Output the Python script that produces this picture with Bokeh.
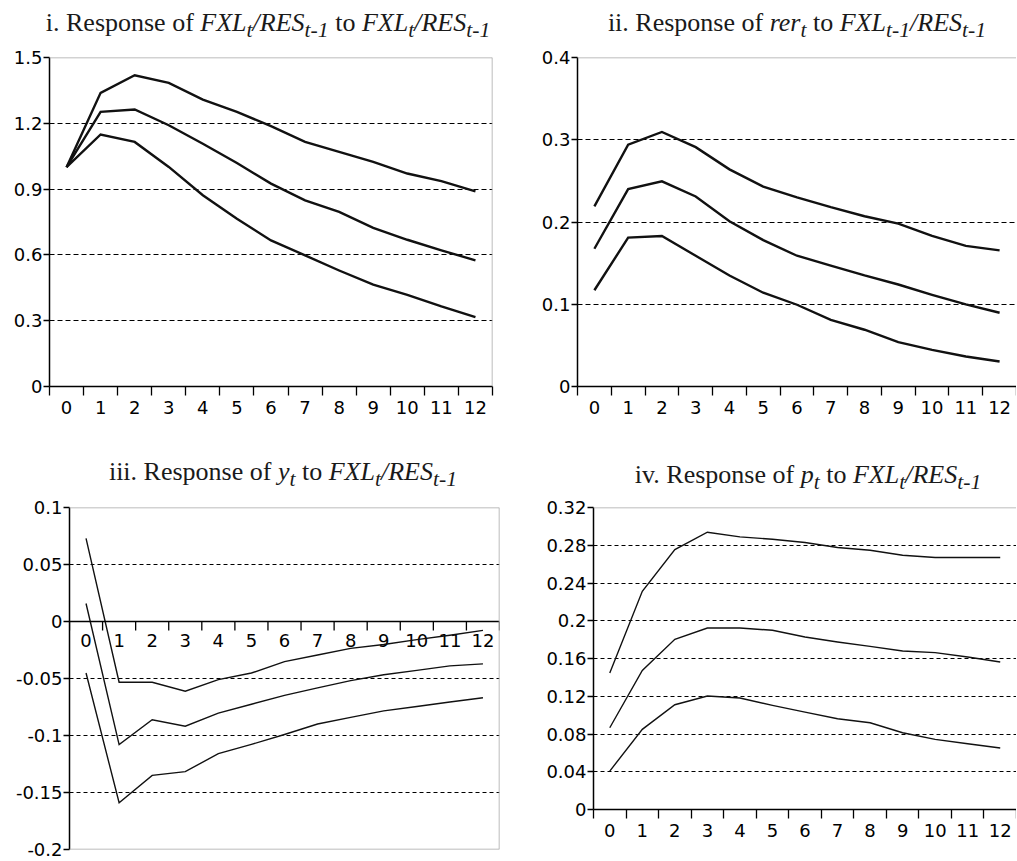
import math
from bokeh.plotting import figure
from bokeh.models import Range1d, FixedTicker, Span, Div
from bokeh.layouts import column, row
from bokeh.embed import file_html
from bokeh.resources import INLINE
from bokeh.core.properties import value

# ---------------- data ----------------
periods = list(range(13))
x_labels = [str(i) for i in periods]

# Panel i: response of FXL/RES to FXL/RES
fxl_upper = [1.00, 1.339, 1.419, 1.384, 1.308, 1.252, 1.187, 1.115, 1.070, 1.024, 0.971, 0.936, 0.890]
fxl_mid   = [1.00, 1.252, 1.263, 1.191, 1.107, 1.019, 0.925, 0.849, 0.796, 0.723, 0.669, 0.621, 0.575]
fxl_lower = [1.00, 1.149, 1.115, 1.001, 0.872, 0.765, 0.666, 0.598, 0.529, 0.464, 0.418, 0.365, 0.316]

# Panel ii: response of rer to FXL/RES
rer_upper = [0.219, 0.294, 0.3095, 0.291, 0.264, 0.243, 0.230, 0.218, 0.207, 0.198, 0.183, 0.171, 0.1655]
rer_mid   = [0.1675, 0.240, 0.2495, 0.231, 0.201, 0.178, 0.159, 0.147, 0.135, 0.124, 0.1115, 0.0998, 0.0897]
rer_lower = [0.117, 0.181, 0.183, 0.159, 0.135, 0.114, 0.0994, 0.0811, 0.069, 0.054, 0.0446, 0.0365, 0.0304]

# Panel iii: response of y to FXL/RES
y_upper = [0.0729, -0.0533, -0.0533, -0.0611, -0.051, -0.0452, -0.0352, -0.0294, -0.0236, -0.0202, -0.0159, -0.0121, -0.0078]
y_mid   = [0.0158, -0.108, -0.0862, -0.0919, -0.0804, -0.0726, -0.0648, -0.0582, -0.0519, -0.0467, -0.0429, -0.0389, -0.0372]
y_lower = [-0.0452, -0.159, -0.135, -0.1317, -0.1159, -0.1078, -0.0991, -0.0899, -0.0841, -0.0784, -0.0746, -0.0706, -0.0669]

# Panel iv: response of p to FXL/RES
p_upper = [0.1446, 0.2312, 0.2754, 0.2938, 0.2889, 0.2864, 0.2829, 0.2776, 0.2747, 0.2694, 0.267, 0.267, 0.267]
p_mid   = [0.0866, 0.1474, 0.1803, 0.1923, 0.1923, 0.1899, 0.1828, 0.1775, 0.1729, 0.168, 0.1662, 0.1616, 0.1563]
p_lower = [0.0407, 0.0849, 0.111, 0.1202, 0.1181, 0.1103, 0.1032, 0.0962, 0.0919, 0.0813, 0.0743, 0.0697, 0.0651]

ticks_i = [0, 0.3, 0.6, 0.9, 1.2, 1.5]
labels_i = ["0", "0.3", "0.6", "0.9", "1.2", "1.5"]
ticks_ii = [0, 0.1, 0.2, 0.3, 0.4]
labels_ii = ["0", "0.1", "0.2", "0.3", "0.4"]
ticks_iii = [-0.2, -0.15, -0.1, -0.05, 0, 0.05, 0.1]
labels_iii = ["-0.2", "-0.15", "-0.1", "-0.05", "0", "0.05", "0.1"]
ticks_iv = [0, 0.04, 0.08, 0.12, 0.16, 0.2, 0.24, 0.28, 0.32]
labels_iv = ["0", "0.04", "0.08", "0.12", "0.16", "0.2", "0.24", "0.28", "0.32"]

title_i = "i. Response of <i>FXL<sub>t</sub>/RES<sub>t-1</sub></i> to <i>FXL<sub>t</sub>/RES<sub>t-1</sub></i>"
title_ii = "ii. Response of <i>rer<sub>t</sub></i> to <i>FXL<sub>t-1</sub>/RES<sub>t-1</sub></i>"
title_iii = "iii. Response of <i>y<sub>t</sub></i> to <i>FXL<sub>t</sub>/RES<sub>t-1</sub></i>"
title_iv = "iv. Response of <i>p<sub>t</sub></i> to <i>FXL<sub>t</sub>/RES<sub>t-1</sub></i>"

FONT = "DejaVu Sans"
TICK_SIZE = "18px"
BORDER = "#a6a6a6"


def make_title(html, width, height, dx, dy):
    return Div(
        text=f'<span style="position:relative;left:{dx}px;top:{dy}px">{html}</span>',
        width=width, height=height, margin=(0, 0, 0, 0),
        styles={"text-align": "center", "font-family": "'Liberation Serif', serif",
                "font-size": "26px", "color": "#1a1a1a", "line-height": "1.1",
                "white-space": "nowrap", "width": f"{width}px"},
    )


def make_panel(width, height, lb, rb, tb, bb, yr, ticks, labels, series, lw, dash,
               manual_xaxis=False, right_border=True, bottom_border=False):
    p = figure(width=width, height=height, output_backend="svg", toolbar_location=None,
               x_range=Range1d(-0.5, 12.5), y_range=Range1d(*yr),
               x_axis_location=None if manual_xaxis else "below",
               min_border_left=lb, min_border_right=rb, min_border_top=tb, min_border_bottom=bb)
    p.outline_line_color = None
    p.background_fill_color = "white"
    p.border_fill_color = "white"
    p.xgrid.visible = False

    # y axis
    p.yaxis.ticker = FixedTicker(ticks=ticks)
    p.yaxis.major_label_overrides = {t: l for t, l in zip(ticks, labels)}
    p.yaxis.axis_line_color = "black"
    p.yaxis.axis_line_width = 1.5
    p.yaxis.major_tick_line_color = "black"
    p.yaxis.major_tick_line_width = 1.3
    p.yaxis.major_tick_out = 6
    p.yaxis.major_tick_in = 0
    p.yaxis.minor_tick_line_color = None
    p.yaxis.major_label_standoff = 1
    p.yaxis.major_label_text_font = FONT
    p.yaxis.major_label_text_font_size = TICK_SIZE
    p.yaxis.major_label_text_color = "black"

    grid_vals = [t for t in ticks if t != 0 and t != yr[0] and t != yr[1]]
    p.ygrid.ticker = FixedTicker(ticks=grid_vals)
    p.ygrid.grid_line_color = "black"
    p.ygrid.grid_line_width = 1.1
    p.ygrid.grid_line_dash = dash

    bounds = [c - 0.5 for c in periods] + [periods[-1] + 0.5]

    if not manual_xaxis:
        p.xaxis.ticker = FixedTicker(ticks=periods, minor_ticks=bounds)
        p.xaxis.major_label_overrides = {c: l for c, l in zip(periods, x_labels)}
        p.xaxis.axis_line_color = "black"
        p.xaxis.axis_line_width = 1.5
        p.xaxis.major_tick_line_color = None
        p.xaxis.major_tick_out = 10
        p.xaxis.major_tick_in = 0
        p.xaxis.minor_tick_line_color = "black"
        p.xaxis.minor_tick_line_width = 1.3
        p.xaxis.minor_tick_out = 9
        p.xaxis.minor_tick_in = 0
        p.xaxis.major_label_standoff = 4
        p.xaxis.major_label_text_font = FONT
        p.xaxis.major_label_text_font_size = TICK_SIZE
        p.xaxis.major_label_text_color = "black"
    else:
        p.add_layout(Span(location=0, dimension="width", line_color="black", line_width=1.5))
        p.ray(x=bounds, y=[0] * len(bounds), length=9, length_units="screen",
              angle=-math.pi / 2, line_color="black", line_width=1.3)
        p.text(x=periods, y=[0] * len(periods), text=x_labels, text_align="center",
               text_baseline="top", y_offset=12, text_font=value(FONT),
               text_font_size=TICK_SIZE, text_color="black")

    p.add_layout(Span(location=yr[1], dimension="width", line_color=BORDER, line_width=1.5))
    if right_border:
        p.add_layout(Span(location=12.5, dimension="height", line_color=BORDER, line_width=1.5))
    if bottom_border:
        p.add_layout(Span(location=yr[0], dimension="width", line_color=BORDER, line_width=1.5))

    for s in series:
        p.line(periods, s, line_color="#111111", line_width=lw, line_join="miter")
    return p


W1, W2 = 530, 486
H1, H2 = 405, 365

p1 = make_panel(W1, H1, 49, 38, 12, 64, (0, 1.5), ticks_i, labels_i,
                [fxl_upper, fxl_mid, fxl_lower], 2.4, "5 3")
p2 = make_panel(W2, H1, 47, 0, 12, 64, (0, 0.4), ticks_ii, labels_ii,
                [rer_upper, rer_mid, rer_lower], 2.4, "5 3", right_border=False)
p3 = make_panel(W1, H2, 69, 31, 12, 11, (-0.2, 0.1), ticks_iii, labels_iii,
                [y_upper, y_mid, y_lower], 1.4, "4 3", manual_xaxis=True, bottom_border=True)
p4 = make_panel(W2, H2, 63, 0, 12, 51, (0, 0.32), ticks_iv, labels_iv,
                [p_upper, p_mid, p_lower], 1.4, "4 3", right_border=False)

t1 = make_title(title_i, W1, 45, 3, 9)
t2 = make_title(title_ii, W2, 45, 24, 9)
t3 = make_title(title_iii, W1, 45, 18, 8)
t4 = make_title(title_iv, W2, 45, 35, 11)

layout = column(
    row(column(t1, p1, spacing=0), column(t2, p2, spacing=0), spacing=0),
    row(column(t3, p3, spacing=0), column(t4, p4, spacing=0), spacing=0),
    spacing=0,
)

open("out.html", "w").write(file_html(layout, INLINE))
